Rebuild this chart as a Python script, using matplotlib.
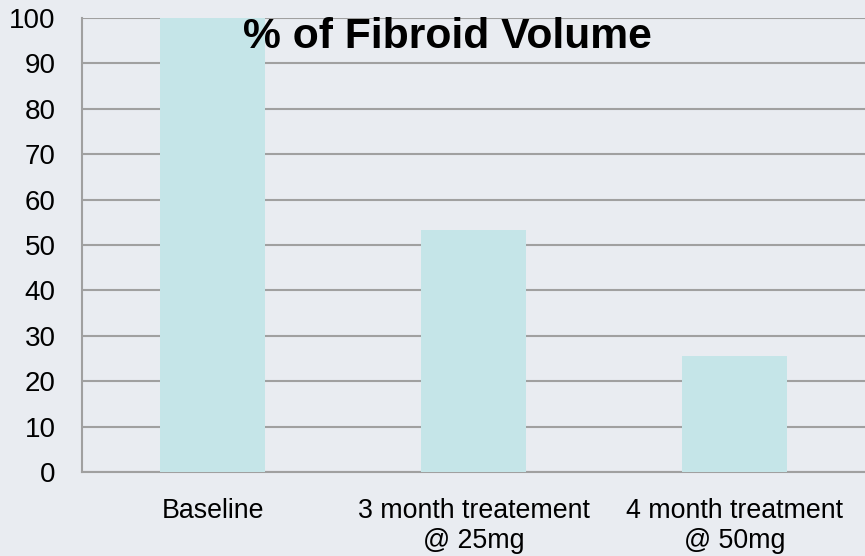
import matplotlib
matplotlib.use("Agg")
import matplotlib.pyplot as plt

categories = ["Baseline", "3 month treatement\n@ 25mg", "4 month treatment\n@ 50mg"]
values = [100, 53.3, 25.6]
yticks = [0, 10, 20, 30, 40, 50, 60, 70, 80, 90, 100]
title = "% of Fibroid Volume"

bg = "#e9ecf1"
bar_color = "#c5e5e8"
grid_color = "#a0a0a0"

plt.rcParams['font.family'] = ['Liberation Sans', 'DejaVu Sans']

fig = plt.figure(figsize=(8.65, 5.56), dpi=100, facecolor=bg)
ax = fig.add_axes([82/865, 1-472/556, 1-82/865, (472-18)/556])
ax.set_facecolor(bg)

x = list(range(len(categories)))
ax.bar(x, values, width=0.4, color=bar_color, zorder=3)
ax.set_xlim(-0.5, len(categories) - 0.5)
ax.set_ylim(0, 100)
ax.set_yticks(yticks)
ax.set_yticklabels([str(v) for v in yticks])
ax.set_xticks(x)
ax.set_xticklabels(categories, linespacing=1.18)
ax.yaxis.grid(True, color=grid_color, linewidth=1.5, zorder=0)
ax.set_axisbelow(True)
for s in ["top", "right"]:
    ax.spines[s].set_visible(False)
for s in ["left", "bottom"]:
    ax.spines[s].set_color(grid_color)
    ax.spines[s].set_linewidth(1.5)
ax.tick_params(axis='y', length=0, pad=19, labelsize=20, colors='black')
ax.tick_params(axis='x', length=0, pad=19, labelsize=19.3, colors='black')

fig.text(447/865, 1-37/556, title, fontsize=30.7, fontweight='bold',
         ha='center', va='center', color='black')

fig.savefig("out.png", dpi=100, facecolor=bg)
